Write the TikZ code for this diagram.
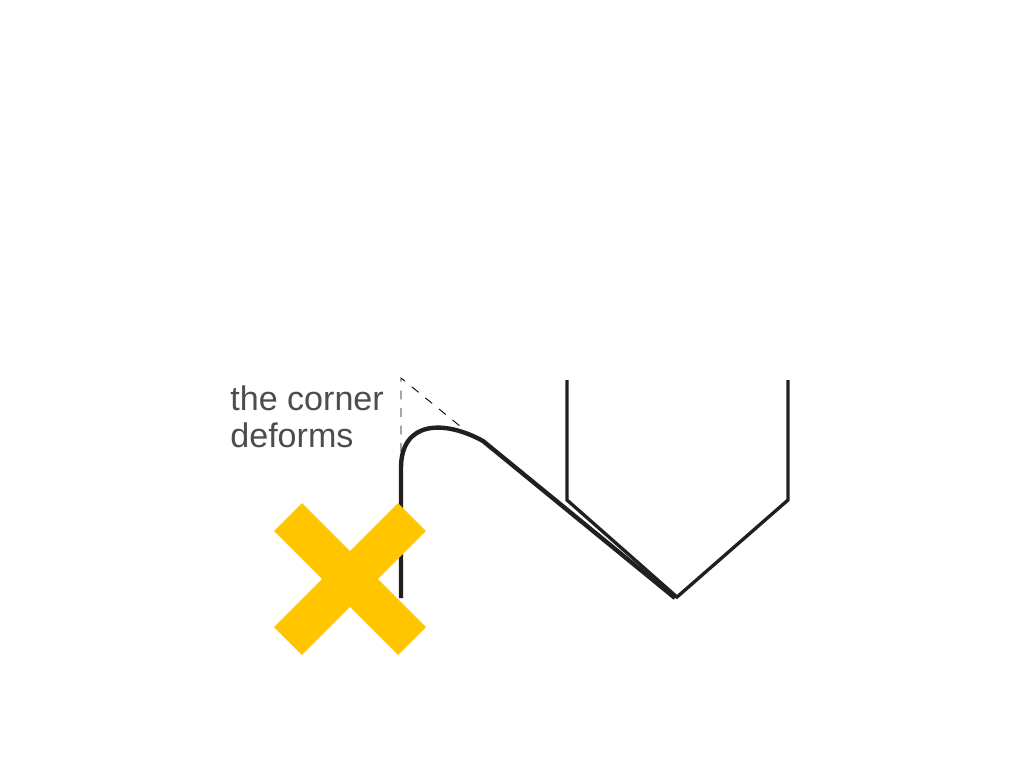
\documentclass[tikz,border=0pt]{standalone}
\usepackage{fontspec}
\setmainfont{Liberation Sans}
\usetikzlibrary{positioning}
\definecolor{crossyellow}{HTML}{FFC600}
\definecolor{labelgray}{HTML}{4D4D4D}
\definecolor{inkblack}{HTML}{231F20}
\tikzset{
    frame/.style = {
        draw = inkblack,
        line width = 1.9pt,
        line join = miter
    },
    bent/.style = {
        draw = inkblack,
        line width = 2.5pt,
        line join = round
    },
    guide/.style = {
        draw = black,
        dash pattern = on 5pt off 5pt,
        line width = 0.5pt
    },
    cross/.style = {
        draw = crossyellow,
        line width = 22.5pt
    },
    note/.style = {
        text = labelgray,
        font = \fontsize{19.4}{21.5}\selectfont,
        align = left,
        inner sep = 0pt
    }
}
\begin{document}
\begin{tikzpicture}[x=0.02cm, y=-0.02cm]
        \useasboundingbox (0,0) rectangle (1024,768);
        % the undamaged frame
        \coordinate (A1) at (567,380);
        \coordinate (A2) at (567,500);
        \coordinate (V) at (677,597);
        \coordinate (B2) at (788,500);
        \coordinate (B1) at (788,380);
        \draw[frame] (A1) -- (A2) -- (V) -- (B2) -- (B1);
%add deformed member
        \coordinate (P0) at (401,598);
        \coordinate (P1) at (401,468);
        \coordinate (P2) at (483,441);
        \coordinate (P3) at (675,598);
        \draw[bent] (P0) -- (P1) .. controls (401,420) and (445,420) .. (P2) -- (P3);
%original corner
        \coordinate (C) at (401,378);
        \coordinate (C1) at (401,452);
        \coordinate (C2) at (466,431);
        \draw[guide] (C1) -- (C) -- (C2);
%cross
        \coordinate (X) at (350,579);
        \draw[cross] (288,517) -- (412,641);
        \draw[cross] (288,641) -- (412,517);
        % label
        \node (lbl) [note, anchor = north west] at (230,385) {the corner\\deforms};
   \end{tikzpicture}
\end{document}
